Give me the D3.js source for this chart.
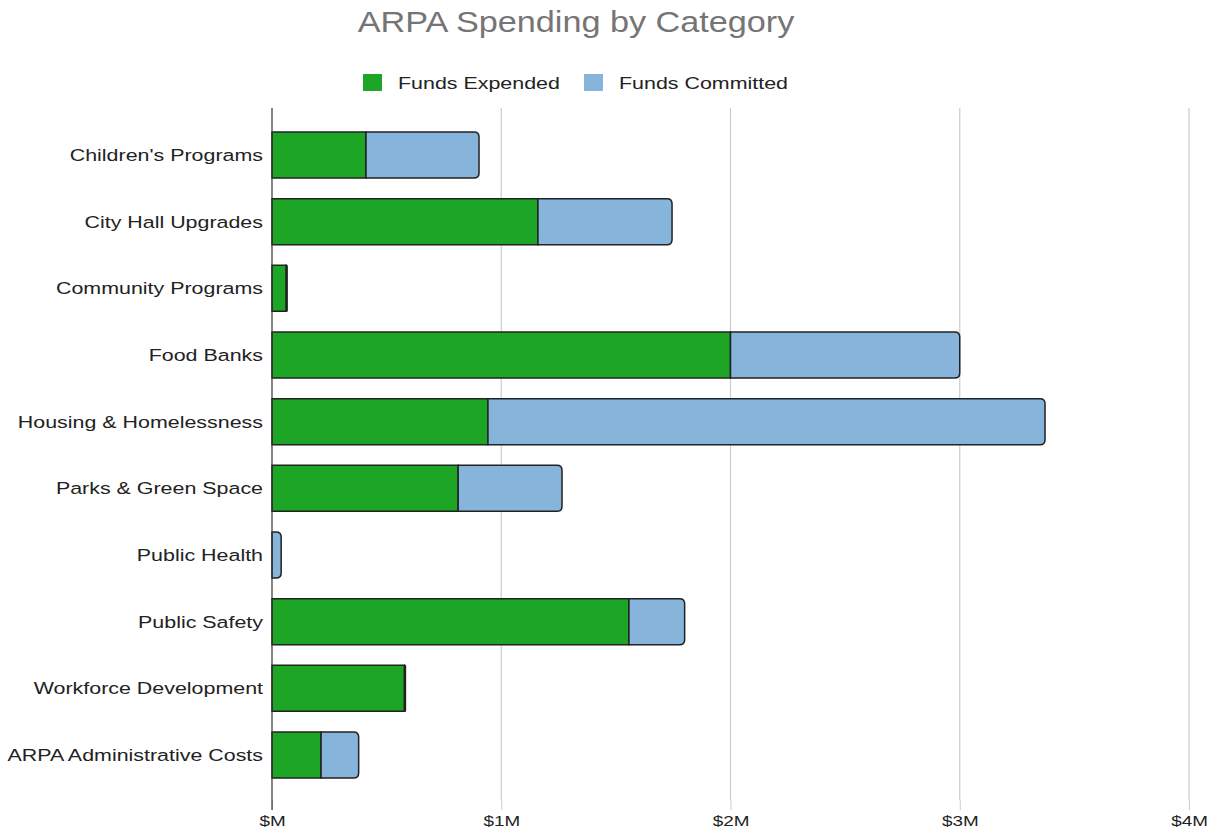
<!DOCTYPE html>
<html>
<head>
<meta charset="utf-8">
<script src="https://cdn.jsdelivr.net/npm/d3@7"></script>
<style>
  body { margin: 0; background: #fff; }
  text { font-family: "Liberation Sans", Arial, sans-serif; }
</style>
</head>
<body>
<div id="chart"></div>
<script>
var categories = ["Children's Programs", "City Hall Upgrades", "Community Programs", "Food Banks",
  "Housing & Homelessness", "Parks & Green Space", "Public Health", "Public Safety",
  "Workforce Development", "ARPA Administrative Costs"];
var expended = [0.41, 1.16, 0.062, 2.0, 0.942, 0.812, 0, 1.557, 0.578, 0.214];
var committed = [0.493, 0.585, 0.004, 1.0, 2.43, 0.453, 0.04, 0.243, 0.004, 0.164];
var seriesNames = ["Funds Expended", "Funds Committed"];
var colors = ["#1da526", "#86b4db"];
var xTicks = [0, 1, 2, 3, 4];

var width = 1219, height = 835;
var margin = { top: 108, right: 30, bottom: 35, left: 272 };
var stretch = 1.26; // source font renders wider than Liberation Sans

var svg = d3.select('#chart').append('svg')
  .attr('width', width)
  .attr('height', height);

var x = d3.scaleLinear()
  .domain([0, 4])
  .range([margin.left, 1189]);

var y = d3.scaleBand()
  .domain(categories)
  .range([121.7, 788.3])
  .paddingInner(0.31)
  .paddingOuter(0.155);

// text placed at (tx,ty) and stretched horizontally around that point
function wideText(parent, tx, ty, s) {
  return parent.append('g')
    .attr('transform', 'translate(' + tx + ',' + ty + ') scale(' + s + ',1)')
    .append('text');
}

// title
wideText(svg, 576, 32, 1.18)
  .attr('text-anchor', 'middle')
  .attr('fill', '#757575')
  .style('font-size', '29px')
  .text('ARPA Spending by Category');

// legend
var legend = svg.append('g');
var lx = [363, 584];
seriesNames.forEach(function(n, i) {
  legend.append('rect')
    .attr('x', lx[i]).attr('y', 74)
    .attr('width', 19).attr('height', 17)
    .attr('fill', colors[i]);
  wideText(legend, lx[i] + 35, 89, stretch)
    .attr('fill', '#222')
    .style('font-size', '17px')
    .text(n);
});

// grid
svg.append('g')
  .selectAll('line')
  .data(xTicks.slice(1))
  .enter().append('line')
  .attr('x1', function(d) { return x(d); })
  .attr('x2', function(d) { return x(d); })
  .attr('y1', margin.top)
  .attr('y2', 800)
  .attr('stroke', '#cccccc')
  .attr('stroke-width', 1.2);

// ticks
var xAxis = svg.append('g')
  .attr('transform', 'translate(0,800)')
  .call(d3.axisBottom(x).tickValues(xTicks).tickSize(10).tickSizeOuter(0)
    .tickFormat(function(d) { return '$' + (d === 0 ? '' : d) + 'M'; }));
xAxis.select('.domain').remove();
xAxis.selectAll('.tick line').attr('stroke', '#cccccc');
xAxis.selectAll('.tick text')
  .attr('y', 15)
  .attr('fill', '#222')
  .attr('transform', 'scale(' + stretch + ',1)')
  .style('font-size', '15px');

// bars
var stacked = d3.stack().keys([0, 1])(categories.map(function(c, i) { return [expended[i], committed[i]]; }));

function barPath(x0, x1, yy, h, round) {
  var r = round ? Math.min(5, x1 - x0) : 0;
  return 'M' + x0 + ',' + yy +
    'H' + (x1 - r) +
    (r ? 'Q' + x1 + ',' + yy + ' ' + x1 + ',' + (yy + r) : '') +
    'V' + (yy + h - r) +
    (r ? 'Q' + x1 + ',' + (yy + h) + ' ' + (x1 - r) + ',' + (yy + h) : '') +
    'H' + x0 + 'Z';
}

stacked.forEach(function(layer, k) {
  svg.append('g')
    .selectAll('path')
    .data(layer)
    .enter().append('path')
    .attr('d', function(d, i) {
      if (d[1] - d[0] <= 0) return null;
      return barPath(x(d[0]), x(d[1]), y(categories[i]), y.bandwidth(), k === 1);
    })
    .attr('fill', colors[k])
    .attr('stroke', '#222')
    .attr('stroke-width', 1.5);
});

// y axis line
svg.append('line')
  .attr('x1', margin.left).attr('x2', margin.left)
  .attr('y1', margin.top).attr('y2', 810)
  .attr('stroke', '#333')
  .attr('stroke-width', 1.2);

// category labels
var labels = svg.append('g');
categories.forEach(function(c) {
  wideText(labels, 263, y(c) + y.bandwidth() / 2, stretch)
    .attr('dy', '0.35em')
    .attr('text-anchor', 'end')
    .attr('fill', '#222')
    .style('font-size', '17px')
    .text(c);
});
</script>
</body>
</html>
